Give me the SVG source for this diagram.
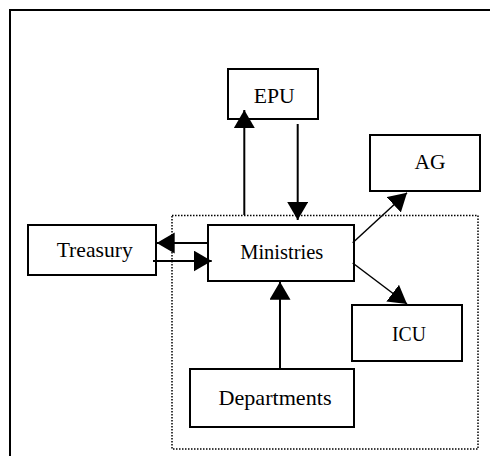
<svg xmlns="http://www.w3.org/2000/svg" width="490" height="456" viewBox="0 0 490 456">
<style>
.box{fill:#fff;stroke:#000;stroke-width:2}
.lbl{font-family:'Liberation Serif','Times New Roman',serif;font-size:21.5px;fill:#000;text-anchor:middle}
.c{stroke:#000;stroke-width:2;fill:none}
.d{stroke:#000;stroke-width:1.5;fill:none}
</style>
<defs>
<marker id="ah" markerUnits="userSpaceOnUse" markerWidth="19" markerHeight="22" refX="18" refY="10.5" orient="auto" viewBox="0 0 19 22">
<path d="M0,0 L18,10.5 L0,21 z" fill="#000"/>
</marker>
</defs>
<rect x="10" y="10" width="500" height="460" fill="#fff" stroke="#000" stroke-width="2"/>
<rect id="group-boundary" x="172" y="215.5" width="306" height="233.5" fill="none" stroke="#000" stroke-width="1.5" stroke-dasharray="1.5 1.5"/>
<g id="EPU"><rect class="box" x="228" y="69" width="90" height="50"/><text class="lbl" x="274.3" y="103" textLength="41" lengthAdjust="spacingAndGlyphs">EPU</text></g>
<g id="AG"><rect class="box" x="370" y="135" width="110" height="56"/><text class="lbl" x="430" y="169" textLength="31" lengthAdjust="spacingAndGlyphs">AG</text></g>
<g id="Treasury"><rect class="box" x="28" y="225" width="128" height="50"/><text class="lbl" x="94.7" y="257" textLength="76" lengthAdjust="spacingAndGlyphs">Treasury</text></g>
<g id="Ministries"><rect class="box" x="208" y="225" width="146" height="56"/><text class="lbl" x="281.7" y="259" textLength="83" lengthAdjust="spacingAndGlyphs">Ministries</text></g>
<g id="ICU"><rect class="box" x="352" y="305" width="110" height="56"/><text class="lbl" x="409" y="341" textLength="34" lengthAdjust="spacingAndGlyphs">ICU</text></g>
<g id="Departments"><rect class="box" x="190" y="369" width="164" height="58"/><text class="lbl" x="275" y="405" textLength="113" lengthAdjust="spacingAndGlyphs">Departments</text></g>
<g id="connectors">
<line class="c" x1="244.3" y1="215" x2="244.3" y2="110" marker-end="url(#ah)"/>
<line class="c" x1="297.7" y1="124" x2="297.7" y2="220" marker-end="url(#ah)"/>
<line class="c" x1="207.7" y1="243" x2="156.7" y2="243" marker-end="url(#ah)"/>
<line class="c" x1="153" y1="261" x2="211.7" y2="261" marker-end="url(#ah)"/>
<line class="c" x1="280" y1="368.7" x2="280" y2="281.7" marker-end="url(#ah)"/>
<line class="d" x1="352.7" y1="242.7" x2="407" y2="192.7" marker-end="url(#ah)"/>
<line class="d" x1="352.7" y1="263" x2="407" y2="304" marker-end="url(#ah)"/>
</g>
</svg>
